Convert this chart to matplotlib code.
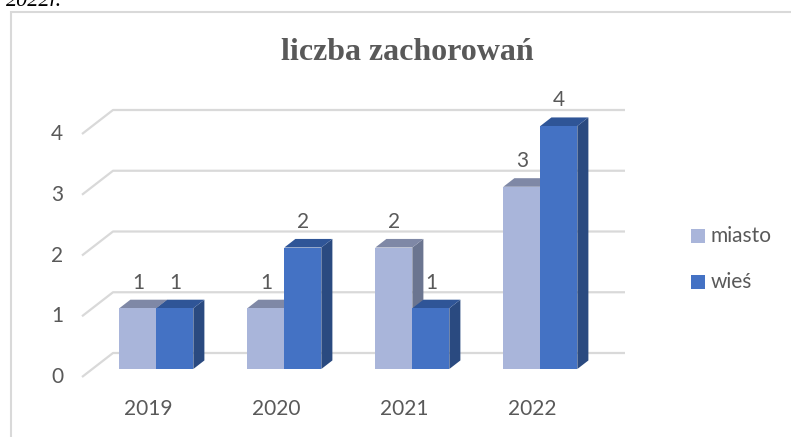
import matplotlib.pyplot as plt
from matplotlib.patches import Polygon, Rectangle

# data
years = ["2019", "2020", "2021", "2022"]
miasto = [1, 1, 2, 3]
wies = [1, 2, 1, 4]
series_names = ["miasto", "wieś"]
y_ticks = [0, 1, 2, 3, 4]

# colours: front, top, side
c_miasto = ("#A9B5DA", "#7F88A6", "#6B7590")
c_wies = ("#4472C4", "#2F5597", "#2A4A80")
grid_col = "#D9D9D9"
txt_col = "#595959"
fs = 15

W, H = 791, 437
fig = plt.figure(figsize=(W / 100, H / 100), dpi=100)
ax = fig.add_axes([0, 0, 1, 1])

# pixel layout -> data units (x: category, y: value)
px_per_cat = 128.0
px_per_val = 60.75
x0_px = 146.0   # front-plane centre of first category
y0_px = 377.0   # front-plane baseline
ax.set_xlim(-x0_px / px_per_cat, (W - x0_px) / px_per_cat)
ax.set_ylim((y0_px - H) / px_per_val, y0_px / px_per_val)
ax.axis("off")

DX = 31 / px_per_cat   # depth vector of the floor
DY = 24 / px_per_val
d0, d1 = 1 / 3, 0.69   # bar front / back depth
bw = 37 / px_per_cat

# gridlines with perspective
for v in y_ticks:
    ax.plot([-0.5, -0.5 + DX, 3.5 + DX], [v, v + DY, v + DY],
            color=grid_col, lw=1.6, zorder=1, solid_capstyle="butt")
    ax.text(-0.695, v, str(v), ha="center", va="center", fontsize=fs,
            color=txt_col, family="Lato")


def bar3d(xl, v, cols):
    xr = xl + bw
    front = Rectangle((xl + d0 * DX, d0 * DY), bw, v, fc=cols[0], ec="none", zorder=3)
    top = Polygon([(xl + d0 * DX, v + d0 * DY), (xr + d0 * DX, v + d0 * DY),
                   (xr + d1 * DX, v + d1 * DY), (xl + d1 * DX, v + d1 * DY)],
                  closed=True, fc=cols[1], ec="none", zorder=3)
    side = Polygon([(xr + d0 * DX, d0 * DY), (xr + d1 * DX, d1 * DY),
                    (xr + d1 * DX, v + d1 * DY), (xr + d0 * DX, v + d0 * DY)],
                   closed=True, fc=cols[2], ec="none", zorder=3)
    for p in (side, top, front):
        ax.add_patch(p)
    ax.text(xl + d0 * DX + bw / 2, v + d0 * DY + 0.42, str(v), ha="center",
            va="center", fontsize=fs, color=txt_col, family="Lato", zorder=4)


for i, year in enumerate(years):
    bar3d(i - bw, miasto[i], c_miasto)
    bar3d(i, wies[i], c_wies)
    ax.text(i + 0.016, -0.527, year, ha="center", va="center", fontsize=fs,
            color=txt_col, family="Lato")

# title
fig.text(407 / W, 1 - 53 / H, "liczba zachorowań", ha="center", va="center",
         fontsize=23, fontweight="bold", color=txt_col, family="Liberation Serif")

# legend
for k, (name, cols) in enumerate(zip(series_names, [c_miasto, c_wies])):
    yc = 236 + k * 45.5
    fig.patches.append(Rectangle((691 / W, 1 - (yc + 7) / H), 14 / W, 14 / H,
                                 fc=cols[0], ec="none", transform=fig.transFigure))
    fig.text(711 / W, 1 - yc / H, name, ha="left", va="center", fontsize=fs,
             color=txt_col, family="Lato")

# chart frame and the clipped line of document text above it
fig.patches.append(Rectangle((11 / W, -0.1), 1.2, 1 - 12 / H + 0.1, fill=False,
                             ec=grid_col, lw=1.5, transform=fig.transFigure))
fig.text(62 / W, 1 - 6 / H, "2022r.", ha="right", va="baseline", fontsize=16,
         style="italic", color="black", family="Liberation Serif")

fig.savefig("out.png", dpi=100)
